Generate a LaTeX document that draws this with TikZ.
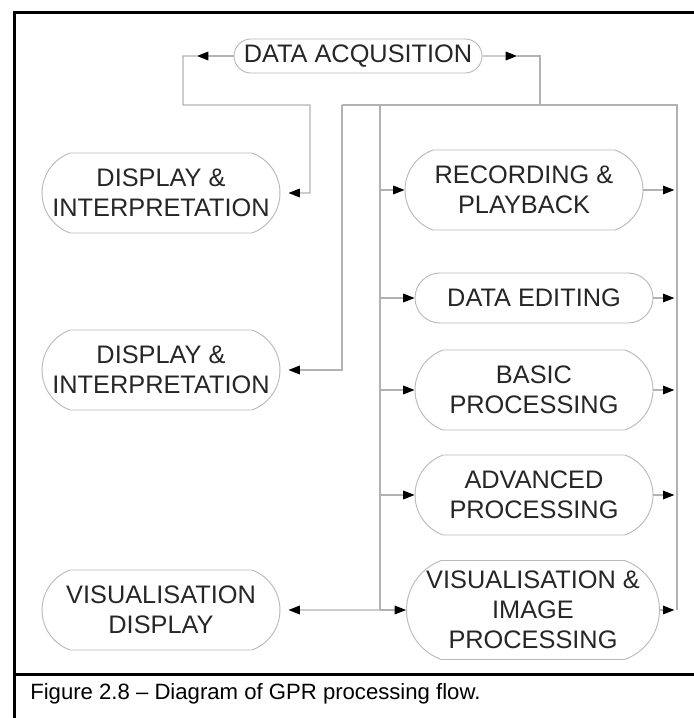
\documentclass[tikz,border=0pt]{standalone}
\usepackage{fontspec}
\setmainfont{Liberation Sans}
\usetikzlibrary{arrows.meta,shapes.misc}

\begin{document}
\begin{tikzpicture}[x=0.75pt, y=-0.75pt,
  main/.style = {draw=gray!55, line width=0.7pt, rounded rectangle, rounded rectangle arc length=140, align=center, text=black!85, font=\fontsize{19}{22.5}\selectfont, minimum width=178.5pt, minimum height=60pt, inner sep=0pt},
  flat/.style = {main, rounded rectangle arc length=180},
  line/.style = {draw=gray!60, line width=0.8pt},
  arr/.style = {line, -{Triangle[length=8.5pt, width=6.5pt, color=black]}}]
		\useasboundingbox (0,0) rectangle (693,718);
		\draw[line width=2.2pt] (14.5,740) -- (14.5,12.5) -- (720,12.5);
		\draw[line width=2.2pt] (14.5,674.5) -- (720,674.5);

		\node[flat, minimum width=186pt, minimum height=25.5pt] (1) at (358,56) {DATA ACQUSITION};
		\node[main] (2) at (161,193) {DISPLAY \&\\INTERPRETATION};
		\node[main] (3) at (161,370) {DISPLAY \&\\INTERPRETATION};
		\node[main] (4) at (161,610) {VISUALISATION\\DISPLAY};
		\node[main] (5) at (524,190) {RECORDING \&\\PLAYBACK};
		\node[flat, minimum height=37.5pt] (6) at (534,298) {DATA EDITING};
		\node[main] (7) at (534,390) {BASIC\\PROCESSING};
		\node[main] (8) at (534,495) {ADVANCED\\PROCESSING};
		\node[main, minimum width=189.75pt, minimum height=74.25pt] (9) at (533,610) {VISUALISATION \&\\IMAGE\\PROCESSING};
		\node[anchor=west, inner sep=0pt, font=\fontsize{16.6}{19}\selectfont] (cap) at (30,694) {Figure 2.8 – Diagram of GPR processing flow.};

		\coordinate (la) at (197,56);
		\coordinate (lc) at (183,105);
		\coordinate (ld) at (310,193);
		\coordinate (ra) at (517,56);
		\coordinate (rc) at (540,105);
		\coordinate (t) at (342,105);
		\coordinate (bl) at (380,105);
		\coordinate (br) at (677,105);
		\coordinate (v) at (380,610);

		\draw[arr] (1) -- (la);
		\draw[arr, shorten >=6pt] (la) -| (lc) -| (ld) -- (2);
		\draw[arr] (1) -- (ra);
		\draw[line] (ra) -| (rc);
		\draw[line] (t) -- (br) -- (br |- 9.east);
		\draw[line] (bl) -- (v);
		\draw[arr, shorten >=6pt] (t) |- (3);
		\draw[arr, shorten >=6pt] (v) -- (4);
		\foreach \n in {5,...,9} {
			\draw[arr] (bl |- \n.west) -- (\n.west);
			\draw[arr, shorten >=2pt] (\n.east) -- (br |- \n.east);
		}
\end{tikzpicture}
\end{document}
